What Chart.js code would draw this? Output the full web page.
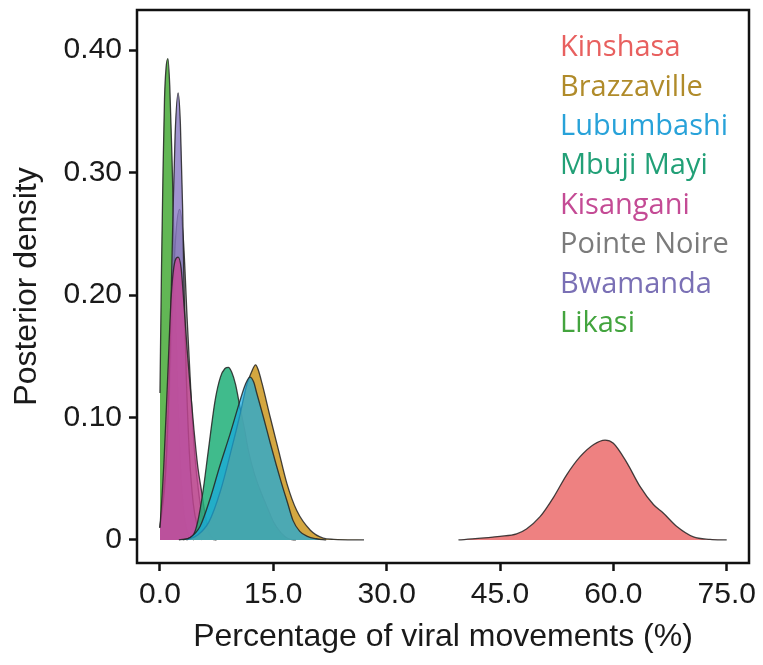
<!DOCTYPE html>
<html>
<head>
<meta charset="utf-8">
<script src="https://cdn.jsdelivr.net/npm/chart.js@4.4.1/dist/chart.umd.min.js"></script>
<style>
  html, body { margin: 0; padding: 0; background: #fff; }
  #chart { display: block; }
</style>
</head>
<body>
<canvas id="chart" width="763" height="665"></canvas>
<script>
// posterior densities, [percentage, density] pairs
const kinshasa = [[39.5,0],[45,0.003],[47.2,0.005],[48.5,0.009],[50.3,0.019],[52.1,0.035],[53.8,0.053],
  [55.6,0.068],[57.4,0.078],[58.9,0.0816],[60,0.079],[61.8,0.063],[63.5,0.044],[65.3,0.029],[66.6,0.022],
  [68.4,0.011],[70.6,0.0025],[72.8,0.0005],[75,0]];
const brazzaville = [[3.5,0],[5,0.004],[6.5,0.015],[8,0.04],[9.5,0.075],[10.5,0.1],[11.5,0.127],[12.1,0.137],
  [12.66,0.143],[13,0.139],[13.5,0.128],[14.6,0.1],[15.7,0.073],[16.8,0.046],[18.1,0.024],[19.9,0.008],
  [21.6,0.0015],[23,0.0005],[27,0]];
const lubumbashi = [[3,0],[4,0.002],[5.3,0.011],[6.6,0.033],[7.9,0.06],[9.3,0.087],[10.6,0.114],[11.3,0.127],
  [11.9,0.133],[12.4,0.129],[12.8,0.12],[13.7,0.1],[14.6,0.079],[15.4,0.061],[16.1,0.046],[16.9,0.03],
  [17.6,0.016],[18.5,0.007],[19.5,0.003],[20.7,0.001],[22,0]];
const mbujiMayi = [[2.5,0],[4,0.002],[4.5,0.005],[5,0.015],[5.7,0.04],[6.4,0.073],[7.3,0.114],[8,0.133],
  [8.6,0.14],[9.05,0.141],[9.5,0.137],[10,0.127],[10.6,0.108],[11.2,0.09],[11.7,0.073],[12.5,0.054],
  [13.3,0.04],[14.1,0.028],[15,0.015],[16,0.006],[17,0.001],[18,0]];
const kisangani = [[0,0.01],[0.5,0.06],[1,0.13],[1.5,0.2],[2,0.228],[2.4,0.231],[2.8,0.222],[3.2,0.19],
  [3.6,0.155],[4,0.125],[4.5,0.09],[5,0.06],[5.5,0.04],[6,0.02],[6.5,0.006],[7,0.001],[7.5,0]];
const pointeNoire = [[0,0.01],[1,0.08],[1.5,0.16],[2,0.24],[2.6,0.27],[3.1,0.245],[3.6,0.18],[4.1,0.12],
  [4.6,0.07],[5.2,0.035],[5.8,0.014],[6.5,0.004],[7.2,0]];
const bwamanda = [[0,0.01],[0.8,0.06],[1.3,0.15],[1.7,0.26],[2,0.33],[2.4,0.365],[2.7,0.34],[3,0.27],
  [3.2,0.2],[3.5,0.13],[3.9,0.07],[4.4,0.03],[5,0.01],[5.6,0]];
const likasi = [[0,0.12],[0.2,0.22],[0.4,0.3],[0.6,0.36],[0.8,0.385],[1.05,0.393],[1.3,0.37],[1.6,0.31],
  [1.8,0.26],[2,0.2],[2.3,0.13],[2.7,0.06],[3.2,0.02],[3.8,0.004],[4.5,0]];

const cityNames = ['Kinshasa', 'Brazzaville', 'Lubumbashi', 'Mbuji Mayi', 'Kisangani', 'Pointe Noire', 'Bwamanda', 'Likasi'];
const cityData = [kinshasa, brazzaville, lubumbashi, mbujiMayi, kisangani, pointeNoire, bwamanda, likasi];
const xTicks = [0, 15, 30, 45, 60, 75];
const yTicks = [0, 0.1, 0.2, 0.3, 0.4];

const fillColors = ['rgba(236,112,112,0.88)', 'rgba(205,152,32,0.85)', 'rgba(25,170,225,0.72)', 'rgba(30,175,120,0.85)',
  'rgba(200,70,150,0.8)', 'rgba(150,150,150,0.8)', 'rgba(135,120,195,0.8)', 'rgba(70,170,55,0.85)'];
const textColors = ['#e8605f', '#b08b2a', '#28a2d9', '#22a077', '#c44b95', '#7b7b7b', '#7a70b5', '#43a43e'];
// lower number is painted on top
const layer = [0, 2, 1, 3, 4, 6, 5, 7];

Chart.defaults.font.family = "'Liberation Sans', Arial, sans-serif";
Chart.defaults.color = '#1a1a1a';

const frame = {
  id: 'frame',
  afterDraw(chart) {
    const { ctx, chartArea: a } = chart;
    ctx.save();
    ctx.strokeStyle = '#111';
    ctx.lineWidth = 2.5;
    ctx.strokeRect(a.left, a.top, a.right - a.left, a.bottom - a.top);
    ctx.restore();
  }
};

// coloured city names in the top right corner
const cityLabels = {
  id: 'cityLabels',
  afterDraw(chart) {
    const { ctx, chartArea: a } = chart;
    ctx.save();
    ctx.font = "29px 'Open Sans', sans-serif";
    ctx.textBaseline = 'middle';
    ctx.textAlign = 'left';
    cityNames.forEach((name, i) => {
      ctx.fillStyle = textColors[i];
      ctx.fillText(name, a.left + 423, a.top + 38 + i * 39.4);
    });
    ctx.restore();
  }
};

// keep tick labels from pushing the plot box inwards
function noOverflow(s) {
  s.paddingTop = 0; s.paddingBottom = 0; s.paddingLeft = 0; s.paddingRight = 0;
}

new Chart(document.getElementById('chart'), {
  type: 'line',
  data: {
    datasets: cityNames.map((name, i) => ({
      label: name,
      data: cityData[i].map(([x, y]) => ({ x, y })),
      fill: 'origin',
      backgroundColor: fillColors[i],
      borderColor: 'rgba(35,35,35,0.85)',
      borderWidth: 1.3,
      pointRadius: 0,
      cubicInterpolationMode: 'monotone',
      order: layer[i],
    })),
  },
  options: {
    responsive: false,
    animation: false,
    layout: { padding: { top: 10, right: 14, left: 0, bottom: 0 } },
    plugins: { legend: { display: false }, tooltip: { enabled: false } },
    scales: {
      x: {
        type: 'linear',
        min: -3.04, max: 77.95,
        afterFit(s) { s.height = 102; noOverflow(s); },
        afterBuildTicks(s) { s.ticks = xTicks.map(v => ({ value: v })); },
        ticks: { font: { size: 30 }, padding: 6, maxRotation: 0, callback: v => v.toFixed(1) },
        grid: { drawOnChartArea: false, tickLength: 8, tickWidth: 2.5, tickColor: '#111' },
        border: { display: false },
        title: { display: true, text: 'Percentage of viral movements (%)', font: { size: 32 }, padding: { top: 0, bottom: 9 } },
      },
      y: {
        min: -0.0188, max: 0.4327,
        afterFit(s) { s.width = 137; noOverflow(s); },
        afterBuildTicks(s) { s.ticks = yTicks.map(v => ({ value: v })); },
        ticks: { font: { size: 30 }, padding: 7, callback: v => v === 0 ? '0' : v.toFixed(2) },
        grid: { drawOnChartArea: false, tickLength: 8, tickWidth: 2.5, tickColor: '#111' },
        border: { display: false },
        title: { display: true, text: 'Posterior density', font: { size: 32 }, padding: { top: 8, bottom: 0 } },
      },
    },
  },
  plugins: [frame, cityLabels],
});
</script>
</body>
</html>
